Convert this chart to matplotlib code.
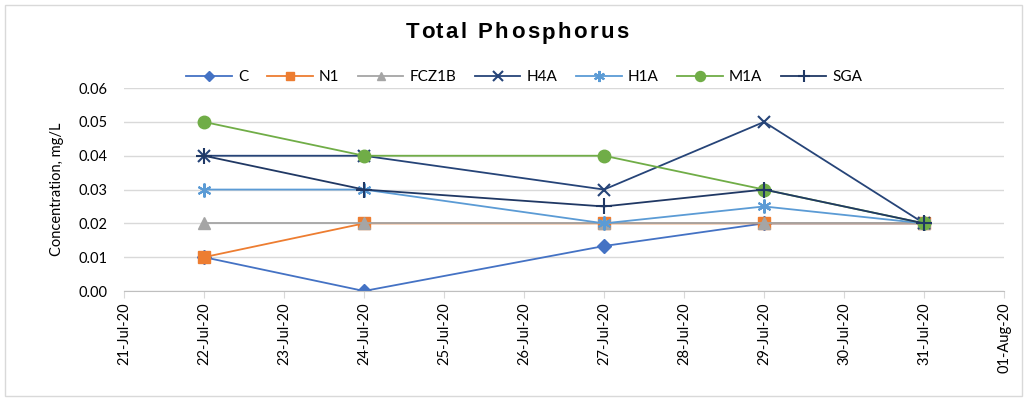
import matplotlib
matplotlib.use("Agg")
import matplotlib.pyplot as plt
import matplotlib.dates as mdates
from matplotlib.patches import Rectangle
import numpy as np
import datetime as dt

dates = ["2020-07-22", "2020-07-24", "2020-07-27", "2020-07-29", "2020-07-31"]
C = [0.01, 0.0, 0.0133, 0.02, 0.02]
N1 = [0.01, 0.02, 0.02, 0.02, 0.02]
FCZ1B = [0.02, 0.02, 0.02, 0.02, 0.02]
H4A = [0.04, 0.04, 0.03, 0.05, 0.02]
H1A = [0.03, 0.03, 0.02, 0.025, 0.02]
M1A = [0.05, 0.04, 0.04, 0.03, 0.02]
SGA = [0.04, 0.03, 0.025, 0.03, 0.02]
title = "Total Phosphorus"

series = [
    ("C", C, "#4472C4", "D", 7),
    ("N1", N1, "#ED7D31", "s", 8),
    ("FCZ1B", FCZ1B, "#A5A5A5", "^", 8),
    ("H4A", H4A, "#264478", "x", 9),
    ("H1A", H1A, "#5B9BD5", (6, 2, 0), 10),
    ("M1A", M1A, "#70AD47", "o", 9),
    ("SGA", SGA, "#203864", "+", 11),
]

plt.rcParams['font.family'] = ['Lato', 'DejaVu Sans']

fig = plt.figure(figsize=(10.27, 4.01), dpi=100)
fig.patches.append(Rectangle((0.005, 0.012), 0.99, 0.976, transform=fig.transFigure,
                             fill=False, edgecolor="#D9D9D9", linewidth=1))
ax = fig.add_axes([0.1207, 0.2743, 0.857, 0.506])

x = [dt.datetime.strptime(d, "%Y-%m-%d") for d in dates]
for name, vals, col, mk, ms in series:
    mew = 1.5 if mk in ("x", "+") or isinstance(mk, tuple) else 1
    ax.plot(x, vals, color=col, marker=mk, markersize=ms, linewidth=1.3,
            markeredgewidth=mew, markeredgecolor=col, label=name)

ax.set_xlim(dt.datetime(2020, 7, 21), dt.datetime(2020, 8, 1))
ax.set_ylim(0, 0.06)
ax.set_yticks(np.arange(0, 0.061, 0.01))
ax.yaxis.set_major_formatter(matplotlib.ticker.FormatStrFormatter('%.2f'))
ax.xaxis.set_major_locator(mdates.DayLocator())
ax.xaxis.set_major_formatter(mdates.DateFormatter('%d-%b-%y'))
plt.setp(ax.get_xticklabels(), rotation=90, fontsize=10.5)
plt.setp(ax.get_yticklabels(), fontsize=10.5)
ax.tick_params(axis='y', length=0, pad=12)
ax.tick_params(axis='x', length=5, color="#D9D9D9", pad=3)
ax.grid(axis='y', color="#D9D9D9", linewidth=1)
ax.set_axisbelow(True)
for s in ["top", "right", "left"]:
    ax.spines[s].set_visible(False)
ax.spines["bottom"].set_color("#BFBFBF")
ax.set_ylabel("Concentration, mg/L", fontsize=10.5, labelpad=10)

# letter-spaced title
renderer = fig.canvas.get_renderer()
tkw = dict(fontsize=16, fontweight="bold", family="Liberation Sans")
def text_w(s):
    t = fig.text(0, 0, s + "|", **tkw)
    w = t.get_window_extent(renderer).width
    t.remove()
    t = fig.text(0, 0, "|", **tkw)
    w -= t.get_window_extent(renderer).width
    t.remove()
    return w
target_w = 223.0
full_w = text_w(title)
spacing = max((target_w - full_w) / (len(title) - 1), 0)
x0 = 517 - (full_w + spacing * (len(title) - 1)) / 2
ytitle = 1 - 33 / 401
for i, ch in enumerate(title):
    if ch == " ":
        continue
    px = x0 + text_w(title[:i]) + i * spacing
    fig.text(px / 1027, ytitle, ch, ha="left", va="center", **tkw)

leg = ax.legend(loc="center", bbox_to_anchor=(0.455, (291 - 77) / 203), ncol=7,
                frameon=False, fontsize=11, handlelength=3.0, columnspacing=1.2,
                handletextpad=0.4, markerscale=0.8)

fig.savefig("out.png", dpi=100)
